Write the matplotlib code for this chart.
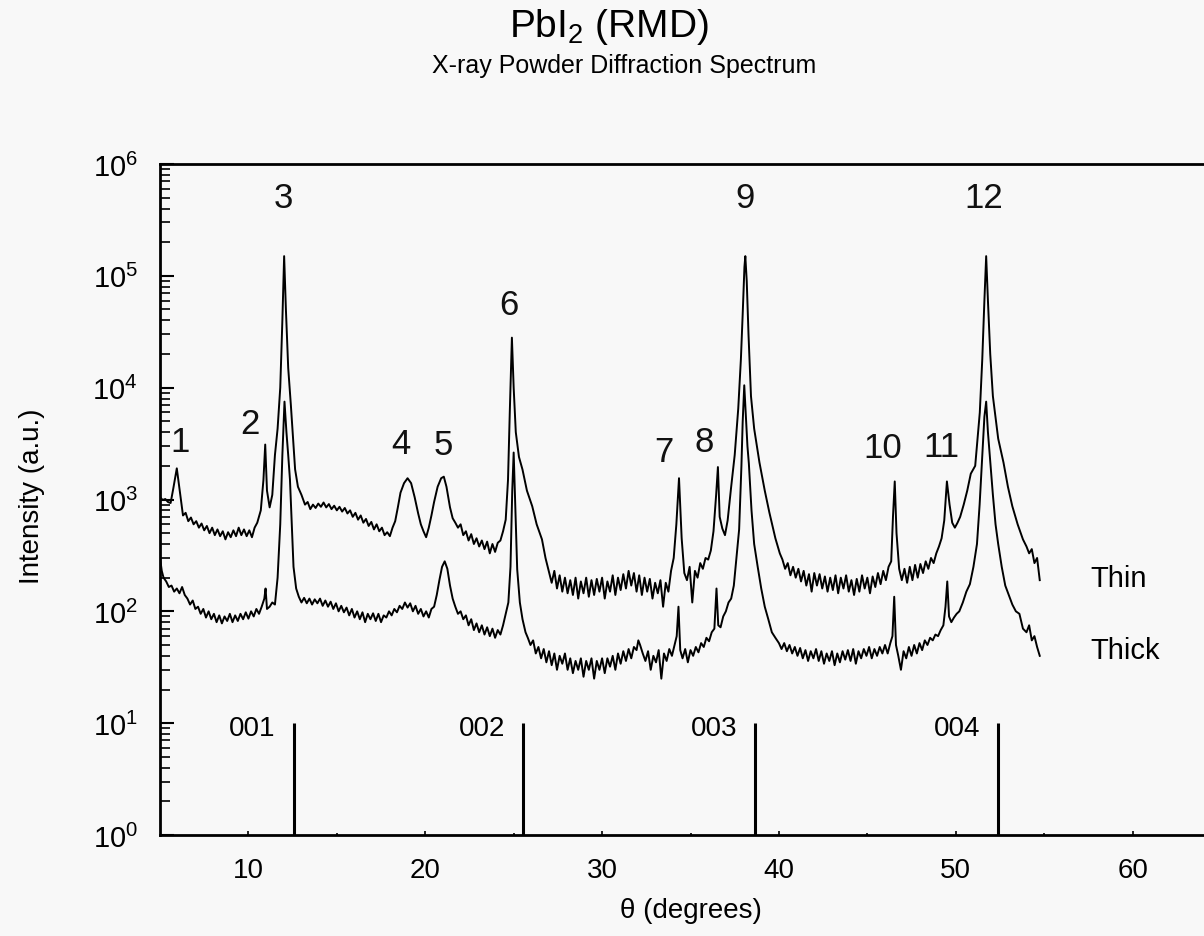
import numpy as np
import matplotlib
matplotlib.use('Agg')
import matplotlib.pyplot as plt
from matplotlib.ticker import LogLocator, FixedLocator, NullFormatter, LogFormatterMathtext

plt.rcParams['font.family'] = ['Liberation Sans', 'DejaVu Sans']
plt.rcParams['mathtext.fontset'] = 'custom'
plt.rcParams['mathtext.rm'] = 'Liberation Sans'
plt.rcParams['mathtext.it'] = 'Liberation Sans:italic'

# thin film trace, theta (deg) vs intensity
thin_theta = [5.0, 5.15, 5.3, 5.45, 5.6, 5.75, 5.95, 6.15, 6.3, 6.45, 6.6, 6.75, 6.9, 7.05, 7.2, 7.35,
              7.5, 7.65, 7.8, 7.95, 8.1, 8.25, 8.4, 8.55, 8.7, 8.85, 9.0, 9.15, 9.3, 9.45, 9.6, 9.75,
              9.9, 10.05, 10.2, 10.35, 10.5, 10.7, 10.85, 10.95, 11.05, 11.2, 11.35, 11.5, 11.65, 11.8,
              11.92, 12.02, 12.12, 12.25, 12.4, 12.5, 12.64, 12.8, 13.0, 13.2, 13.35, 13.5, 13.65, 13.8,
              13.95, 14.1, 14.25, 14.4, 14.55, 14.7, 14.85, 15.0, 15.15, 15.3, 15.45, 15.6, 15.75, 15.9,
              16.05, 16.2, 16.35, 16.5, 16.65, 16.8, 16.95, 17.1, 17.25, 17.4, 17.55, 17.7, 17.85, 18.0,
              18.15, 18.3, 18.45, 18.6, 18.8, 19.0, 19.2, 19.4, 19.6, 19.75, 19.9, 20.05, 20.2, 20.35,
              20.5, 20.7, 20.9, 21.05, 21.2, 21.4, 21.55, 21.7, 21.85, 22.0, 22.15, 22.3, 22.45, 22.6,
              22.75, 22.9, 23.05, 23.2, 23.35, 23.5, 23.65, 23.8, 23.95, 24.1, 24.25, 24.4, 24.55, 24.68,
              24.78, 24.9, 25.0, 25.12, 25.3, 25.5, 25.75, 26.05, 26.3, 26.6, 26.8, 27.0, 27.15, 27.3,
              27.45, 27.6, 27.75, 27.9, 28.05, 28.2, 28.35, 28.5, 28.65, 28.8, 28.95, 29.1, 29.25, 29.4,
              29.55, 29.7, 29.85, 30.0, 30.15, 30.3, 30.45, 30.6, 30.75, 30.9, 31.05, 31.2, 31.35, 31.5,
              31.65, 31.8, 31.95, 32.1, 32.25, 32.4, 32.55, 32.7, 32.85, 33.0, 33.15, 33.3, 33.45, 33.6,
              33.75, 33.9, 34.05, 34.2, 34.35, 34.5, 34.65, 34.8, 34.95, 35.1, 35.25, 35.4, 35.55, 35.7,
              35.85, 36.0, 36.15, 36.3, 36.45, 36.55, 36.65, 36.8, 36.95, 37.1, 37.3, 37.5, 37.7, 37.85,
              37.95, 38.05, 38.1, 38.18, 38.28, 38.42, 38.6, 38.9, 39.2, 39.46, 39.8, 40.05, 40.2, 40.35,
              40.5, 40.65, 40.8, 40.95, 41.1, 41.25, 41.4, 41.55, 41.7, 41.85, 42.0, 42.15, 42.3, 42.45,
              42.6, 42.75, 42.9, 43.05, 43.2, 43.35, 43.5, 43.65, 43.8, 43.95, 44.1, 44.25, 44.4, 44.55,
              44.7, 44.85, 45.0, 45.15, 45.3, 45.45, 45.6, 45.75, 45.9, 46.05, 46.2, 46.35, 46.45, 46.55,
              46.65, 46.8, 46.95, 47.1, 47.25, 47.4, 47.55, 47.7, 47.85, 48.0, 48.15, 48.3, 48.45, 48.6,
              48.75, 48.9, 49.05, 49.2, 49.35, 49.5, 49.65, 49.8, 49.95, 50.1, 50.25, 50.45, 50.65, 50.85,
              51.1, 51.36, 51.5, 51.62, 51.72, 51.82, 51.95, 52.1, 52.4, 52.7, 52.95, 53.2, 53.5, 53.8,
              54.0, 54.15, 54.3, 54.45, 54.6, 54.75]
thin_counts = [1050, 990, 1010, 950, 930, 1250, 1900, 1100, 720, 760, 640, 690, 600, 640, 560, 610,
               530, 580, 500, 560, 480, 540, 470, 520, 440, 510, 460, 530, 470, 560, 480, 540,
               470, 530, 460, 560, 620, 800, 1500, 3100, 1200, 850, 1100, 2500, 4300, 10000,
               40000, 150000, 50000, 15000, 7000, 4000, 1860, 1300, 1100, 900, 950, 820, 900, 840,
               920, 860, 940, 850, 910, 820, 880, 800, 860, 780, 840, 750, 800, 700,
               760, 660, 720, 620, 670, 580, 630, 540, 600, 520, 560, 480, 510, 470,
               560, 640, 850, 1150, 1400, 1550, 1400, 1050, 750, 600, 520, 460, 560, 720,
               950, 1300, 1550, 1600, 1300, 850, 680, 620, 560, 600, 480, 520, 430, 490,
               400, 450, 380, 430, 360, 420, 330, 400, 340, 410, 430, 520, 660, 1500,
               6000, 28000, 10000, 4000, 2400, 1850, 1200, 870, 600, 440, 300, 225, 180, 230,
               160, 210, 150, 200, 145, 190, 140, 200, 130, 185, 145, 200, 135, 190,
               140, 195, 150, 200, 130, 185, 150, 210, 140, 200, 155, 215, 160, 230,
               170, 220, 150, 210, 140, 200, 150, 195, 130, 180, 145, 190, 110, 180,
               150, 230, 300, 600, 1550, 450, 220, 190, 250, 120, 230, 200, 270, 240,
               300, 290, 350, 520, 1100, 1950, 700, 550, 480, 650, 1300, 2500, 6500, 18000,
               45000, 120000, 150000, 90000, 30000, 8400, 4300, 2140, 1200, 765, 450, 330, 290, 240,
               270, 210, 250, 200, 240, 185, 230, 170, 215, 150, 220, 170, 215, 160,
               205, 150, 200, 155, 210, 145, 200, 160, 210, 150, 190, 140, 195, 150,
               210, 160, 200, 145, 205, 165, 220, 175, 230, 190, 250, 280, 700, 1450,
               500, 240, 190, 240, 180, 250, 190, 260, 200, 265, 220, 280, 240, 300,
               270, 330, 380, 450, 650, 1450, 900, 620, 560, 620, 700, 900, 1200, 1700,
               2000, 6000, 18000, 60000, 150000, 60000, 20000, 8400, 3500, 2140, 1300, 870, 600, 440,
               380, 330, 360, 270, 300, 190]

# thick film trace
thick_theta = [5.0, 5.1, 5.2, 5.35, 5.5, 5.65, 5.8, 5.95, 6.1, 6.25, 6.4, 6.55, 6.7, 6.85, 7.0, 7.15,
               7.3, 7.45, 7.6, 7.75, 7.9, 8.05, 8.2, 8.35, 8.5, 8.65, 8.8, 8.95, 9.1, 9.25, 9.4, 9.55,
               9.7, 9.85, 10.0, 10.15, 10.3, 10.45, 10.6, 10.75, 10.9, 10.97, 11.05, 11.2, 11.35, 11.5,
               11.65, 11.8, 11.92, 12.04, 12.15, 12.25, 12.35, 12.45, 12.55, 12.7, 12.85, 13.0, 13.15,
               13.3, 13.45, 13.6, 13.75, 13.9, 14.05, 14.2, 14.35, 14.5, 14.65, 14.8, 14.95, 15.1, 15.25,
               15.4, 15.55, 15.7, 15.85, 16.0, 16.15, 16.3, 16.45, 16.6, 16.75, 16.9, 17.05, 17.2, 17.35,
               17.5, 17.65, 17.8, 17.95, 18.1, 18.25, 18.4, 18.55, 18.7, 18.85, 19.0, 19.15, 19.3, 19.45,
               19.6, 19.75, 19.9, 20.05, 20.2, 20.35, 20.5, 20.65, 20.8, 20.95, 21.1, 21.25, 21.4, 21.55,
               21.7, 21.85, 22.0, 22.15, 22.3, 22.45, 22.6, 22.75, 22.9, 23.05, 23.2, 23.35, 23.5, 23.65,
               23.8, 23.95, 24.1, 24.25, 24.4, 24.55, 24.7, 24.82, 24.92, 25.0, 25.08, 25.2, 25.35, 25.5,
               25.67, 25.8, 25.95, 26.1, 26.25, 26.4, 26.55, 26.7, 26.85, 27.0, 27.15, 27.3, 27.45, 27.6,
               27.75, 27.9, 28.05, 28.2, 28.35, 28.5, 28.65, 28.8, 28.95, 29.1, 29.25, 29.4, 29.55, 29.7,
               29.85, 30.0, 30.15, 30.3, 30.45, 30.6, 30.75, 30.9, 31.05, 31.2, 31.35, 31.5, 31.65, 31.8,
               31.95, 32.05, 32.15, 32.3, 32.45, 32.6, 32.75, 32.9, 33.05, 33.2, 33.35, 33.5, 33.65, 33.8,
               33.95, 34.1, 34.22, 34.32, 34.42, 34.55, 34.7, 34.85, 35.0, 35.15, 35.3, 35.45, 35.6, 35.75,
               35.9, 36.05, 36.2, 36.35, 36.47, 36.57, 36.7, 36.85, 37.0, 37.15, 37.3, 37.45, 37.6, 37.75,
               37.88, 37.95, 38.04, 38.12, 38.22, 38.3, 38.45, 38.6, 38.8, 39.0, 39.2, 39.4, 39.6, 39.8,
               40.0, 40.15, 40.3, 40.45, 40.6, 40.75, 40.9, 41.05, 41.2, 41.35, 41.5, 41.65, 41.8, 41.95,
               42.1, 42.25, 42.4, 42.55, 42.7, 42.85, 43.0, 43.15, 43.3, 43.45, 43.6, 43.75, 43.9, 44.05,
               44.2, 44.35, 44.5, 44.65, 44.8, 44.95, 45.1, 45.25, 45.4, 45.55, 45.7, 45.85, 46.0, 46.15,
               46.3, 46.42, 46.52, 46.62, 46.75, 46.9, 47.05, 47.2, 47.35, 47.5, 47.65, 47.8, 47.95, 48.1,
               48.25, 48.4, 48.55, 48.7, 48.85, 49.0, 49.15, 49.3, 49.42, 49.52, 49.62, 49.75, 49.9, 50.05,
               50.2, 50.4, 50.6, 50.8, 51.0, 51.2, 51.35, 51.5, 51.62, 51.72, 51.82, 51.95, 52.1, 52.25,
               52.4, 52.6, 52.8, 53.0, 53.2, 53.4, 53.6, 53.8, 54.0, 54.15, 54.3, 54.45, 54.6, 54.75]
thick_counts = [300, 230, 200, 185, 165, 170, 150, 160, 145, 165, 140, 130, 115, 125, 105, 110,
                95, 105, 88, 100, 85, 95, 80, 92, 78, 90, 82, 95, 80, 92, 82, 95,
                85, 98, 86, 100, 90, 105, 95, 110, 130, 160, 105, 110, 120, 115,
                200, 600, 2500, 7500, 4000, 2500, 1500, 600, 250, 160, 135, 120, 132,
                118, 130, 115, 128, 118, 130, 112, 125, 110, 122, 105, 118, 100, 112,
                98, 108, 92, 105, 88, 100, 85, 98, 80, 95, 85, 96, 82, 95,
                80, 92, 88, 100, 92, 105, 98, 112, 105, 120, 108, 118, 100, 112,
                95, 105, 90, 100, 88, 105, 110, 140, 190, 250, 280, 240, 170, 130,
                110, 95, 100, 85, 92, 75, 85, 68, 78, 65, 75, 62, 72, 60,
                70, 58, 68, 62, 75, 95, 120, 250, 1200, 2630, 1000, 237, 120, 85,
                65, 58, 50, 55, 42, 48, 38, 46, 35, 44, 33, 42, 30, 40,
                34, 42, 30, 38, 28, 36, 30, 38, 26, 36, 30, 38, 25, 36,
                30, 38, 28, 38, 32, 40, 30, 42, 34, 44, 36, 46, 38, 48,
                45, 55, 50, 42, 36, 44, 30, 40, 35, 45, 25, 42, 36, 46,
                40, 50, 60, 110, 45, 38, 46, 35, 45, 40, 48, 43, 52, 48,
                58, 54, 65, 70, 160, 75, 72, 90, 100, 120, 130, 170, 300, 540,
                2000, 4900, 10500, 6000, 3000, 2100, 800, 400, 250, 160, 110, 85, 65, 58,
                52, 46, 52, 44, 50, 42, 48, 40, 47, 38, 45, 36, 44, 38,
                46, 36, 44, 34, 42, 36, 44, 33, 42, 35, 44, 37, 45, 36,
                46, 34, 44, 38, 46, 40, 48, 38, 46, 40, 48, 42, 50, 42,
                52, 60, 135, 50, 40, 30, 44, 38, 48, 40, 50, 42, 52, 45,
                55, 50, 58, 55, 62, 60, 68, 75, 110, 185, 90, 80, 88, 95,
                100, 120, 150, 175, 250, 400, 900, 2500, 5500, 7500, 4000, 2200, 1100, 600,
                400, 250, 170, 140, 115, 100, 95, 70, 65, 75, 55, 60, 48, 40]

# reference PbI2 (00l) positions
ref_labels = ['001', '002', '003', '004']
ref_theta = [12.55, 25.5, 38.65, 52.4]

# hand-written peak numbers
peak_labels = ['1', '2', '3', '4', '5', '6', '7', '8', '9', '10', '11', '12']
peak_label_theta = [6.15, 10.1, 12.0, 18.6, 21.0, 24.75, 33.5, 35.8, 38.1, 45.9, 49.2, 51.6]
peak_label_y = [3300, 4800, 5.0e5, 3200, 3100, 5.5e4, 2700, 3300, 5.0e5, 2900, 3000, 5.0e5]

# trace names at the right
trace_labels = ['Thin', 'Thick']
trace_label_y = [200, 45]

y_decades = [1, 10, 100, 1e3, 1e4, 1e5, 1e6]
x_major = [10, 20, 30, 40, 50, 60]
x_minor = [15, 25, 35, 45, 55]

W, H = 1204, 937
fig = plt.figure(figsize=(W / 100, H / 100), dpi=100, facecolor='#f8f8f8')
# the scan crops the right part of the frame, so the axes run past the page edge
ax = fig.add_axes([160 / W, 1 - 836 / H, (1221 - 160) / W, (836 - 165) / H])
ax.set_facecolor('#f8f8f8')

ax.plot(thin_theta, thin_counts, color='black', lw=1.4)
ax.plot(thick_theta, thick_counts, color='black', lw=1.4)
ax.vlines(ref_theta, 1, 10, colors='black', lw=2.2)
for lab, t in zip(ref_labels, ref_theta):
    ax.text(t - 1.0, 9, lab, ha='right', va='center', fontsize=20)

for lab, t, y in zip(peak_labels, peak_label_theta, peak_label_y):
    ax.text(t, y, lab, ha='center', va='center', fontsize=25, color='#111111')

for lab, y in zip(trace_labels, trace_label_y):
    ax.text(57.6, y, lab, ha='left', va='center', fontsize=21)

ax.set_yscale('log')
ax.set_xlim(5, 65)
ax.set_ylim(1, 1e6)
ax.yaxis.set_major_locator(FixedLocator(y_decades))
ax.yaxis.set_minor_locator(LogLocator(base=10, subs=np.arange(2, 10), numticks=20))
ax.yaxis.set_major_formatter(LogFormatterMathtext())
ax.yaxis.set_minor_formatter(NullFormatter())
ax.xaxis.set_major_locator(FixedLocator(x_major))
ax.xaxis.set_minor_locator(FixedLocator(x_minor))
ax.xaxis.set_minor_formatter(NullFormatter())
ax.tick_params(axis='y', which='major', direction='in', length=10, width=1.5, labelsize=21, pad=16)
ax.tick_params(axis='y', which='minor', direction='in', length=7, width=1.2)
ax.tick_params(axis='x', which='major', direction='in', length=3, width=1.2, labelsize=20, pad=16)
ax.tick_params(axis='x', which='minor', direction='in', length=1.5, width=1.2)
for s in ax.spines.values():
    s.set_linewidth(2)

ax.set_xlabel('θ (degrees)', fontsize=20, labelpad=10)
fig.text(32 / W, 0.47, 'Intensity (a.u.)', rotation=90, ha='center', va='center', fontsize=20)

fig.text(609 / W, 1 - 27 / H, 'PbI$_2$ (RMD)', ha='center', va='center', fontsize=28)
fig.text(624 / W, 1 - 66 / H, 'X-ray Powder Diffraction Spectrum', ha='center', va='center', fontsize=18)

fig.savefig('out.png', dpi=100, facecolor=fig.get_facecolor())
